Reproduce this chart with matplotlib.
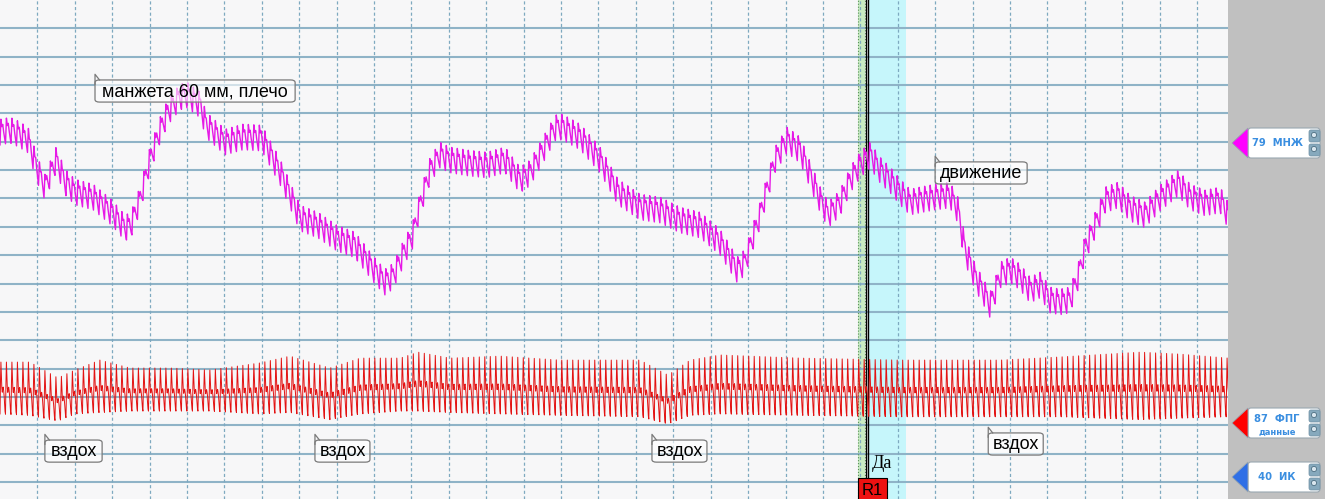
import numpy as np
import matplotlib.pyplot as plt
from matplotlib.patches import FancyBboxPatch, Polygon, Rectangle, Circle

# МНЖ (magenta) channel: slow trend, time in s, level in grid cells from top
mnz_t = [0.0, 0.27, 0.5, 0.75, 1.0, 1.2, 1.5, 1.74, 2.0, 2.49, 3.0, 3.34, 3.5, 3.74,
         4.01, 4.28, 4.49, 4.81, 5.0, 5.35, 5.51, 6.02, 6.5, 7.0, 7.49, 8.02, 8.5,
         9.01, 9.49, 10.0, 10.29, 10.51, 10.83, 11.02, 11.23, 11.5, 11.76, 12.03,
         12.51, 13.02, 13.5, 13.9, 14.17, 14.52, 14.84, 15.03, 15.51, 16.04, 16.52,
         17.11, 17.65, 18.18, 18.72, 19.25, 19.71, 19.92, 20.32, 20.72, 21.04, 21.39,
         21.66, 21.93, 22.14, 22.46, 22.73, 22.99, 23.26, 23.53, 23.8, 24.06, 24.33,
         24.6, 25.0, 25.4, 25.61, 25.8, 26.07, 26.34, 26.47, 26.6, 26.74, 27.01,
         27.27, 27.54, 27.81, 28.07, 28.34, 28.61, 28.82, 29.01, 29.28, 29.55, 29.89,
         30.21, 30.61, 31.02, 31.5, 31.82, 32.22, 32.62, 32.83]
mnz_mid = [4.66, 4.59, 4.73, 4.94, 6.0, 6.6, 5.64, 6.42, 6.77, 6.95, 7.51, 8.04, 7.94, 7.05,
           5.64, 4.59, 3.95, 3.42, 3.35, 3.7, 4.41, 5.01, 4.83, 4.87, 6.07, 7.69, 7.94,
           8.4, 8.64, 9.52, 9.95, 9.74, 8.82, 8.36, 7.23, 6.0, 5.47, 5.64,
           5.75, 5.82, 5.64, 6.35, 6.1, 5.29, 4.51, 4.48, 4.83, 5.64, 6.77,
           7.3, 7.41, 7.76, 7.94, 8.54, 9.52, 9.24, 7.58, 5.64, 4.94, 5.29,
           6.17, 7.05, 7.58, 7.16, 6.35, 5.82, 5.47, 6.0, 6.35, 6.77, 7.13,
           7.05, 6.95, 6.88, 7.41, 8.82, 9.77, 10.41, 10.76, 10.3, 9.7, 9.52,
           9.77, 10.23, 10.05, 10.58, 10.65, 10.58, 9.77, 8.75, 7.94, 7.05, 6.88,
           7.34, 7.58, 6.98, 6.46, 6.95, 7.16, 7.05, 7.58]
mnz_swing = 0.45

# ФПГ (red) channel: upper and lower envelope, grid cells from top
fpg_t = [0.0, 0.8, 1.55, 2.0, 2.67, 3.48, 4.55, 5.61, 6.95, 7.75, 8.82, 9.63, 10.7, 11.18,
         12.03, 13.37, 14.97, 17.11, 17.86, 18.45, 19.25, 21.39, 24.06, 26.74, 28.34,
         30.48, 31.55, 32.83]
fpg_top = [12.77, 12.77, 13.33, 13.05, 12.7, 12.98, 12.98, 13.05, 12.8, 12.56, 12.98, 12.63,
           12.63, 12.42, 12.63, 12.56, 12.7, 12.7, 13.23, 12.7, 12.52, 12.63, 12.7, 12.7,
           12.59, 12.42, 12.49, 12.63]
fpg_bot = [14.6, 14.65, 14.85, 14.6, 14.55, 14.5, 14.5, 14.5, 14.6, 14.55, 14.8, 14.6,
           14.5, 14.5, 14.55, 14.6, 14.65, 14.7, 14.95, 14.65, 14.6, 14.65, 14.7, 14.7,
           14.7, 14.8, 14.75, 14.7]

# one heart beat (0 = trough, 1 = peak)
beat_period = 0.147
mnz_beat = [0.0, 0.55, 1.0, 0.85, 0.7, 0.74, 0.78, 0.62, 0.48, 0.36, 0.22, 0.1]
fpg_beat = [0.0, 0.6, 1.0, 0.75, 0.5, 0.42, 0.5, 0.52, 0.45, 0.35, 0.2, 0.05]

labels = [("манжета 60 мм, плечо", 2.54, 2.82, 7.89, 3.6),
          ("движение", 25.0, 5.71, 27.46, 6.49),
          ("вздох", 1.2, 15.52, 2.73, 16.3),
          ("вздох", 8.42, 15.52, 9.89, 16.3),
          ("вздох", 17.43, 15.52, 18.9, 16.3),
          ("вздох", 26.42, 15.27, 27.89, 16.05)]

tags = [("79  МНЖ", "", "#ff00ff", 143),
        ("87  ФПГ", "данные", "#ff0000", 423),
        ("40  ИК", "", "#2f6fe6", 477)]

t_end = 32.83
y_end = 17.6


def trace(t_pts, top, bot, shape):
    n = len(shape)
    tt = []
    for k in range(int(t_end / beat_period) + 1):
        for i in range(n):
            tt.append((k + i / n) * beat_period)
    tt = np.array(tt)
    tp = np.interp(tt, t_pts, top)
    bt = np.interp(tt, t_pts, bot)
    s = np.tile(shape, len(tt) // n)
    return tt, bt - (bt - tp) * s


fig = plt.figure(figsize=(13.25, 4.99), dpi=100, facecolor="#c0c0c0")
ax = fig.add_axes([0, 0, 1228 / 1325, 1])
ax.set_facecolor("#f7f7f8")
ax.set_xlim(0, t_end)
ax.set_ylim(y_end, 0)
ax.set_xticks([])
ax.set_yticks([])
for s in ax.spines.values():
    s.set_visible(False)

for y in range(1, 18):
    ax.axhline(y, color="#8fb3c7", lw=1.5, zorder=1)
for x in range(1, 33):
    ax.axvline(x, color="#7ea9c0", lw=0.9, ls=(0, (2.5, 2)), zorder=1)

# event marker
ax.axvspan(23.21, 24.22, color="#c6f6fb", zorder=0.5, lw=0)
ax.axvspan(22.94, 23.13, color="#c9ebc2", zorder=0.5, lw=0)
ax.axvline(22.94, color="#5b8f5b", lw=0.8, ls=":", zorder=2)
ax.axvline(23.13, color="#5b8f5b", lw=0.8, ls=":", zorder=2)
ax.axvline(23.15, color="black", lw=1.0, zorder=2)
ax.axvline(23.21, color="black", lw=1.0, zorder=2)

mid = np.array(mnz_mid)
t1, y1 = trace(mnz_t, mid - mnz_swing, mid + mnz_swing, mnz_beat)
ax.plot(t1, y1, color="#e619e6", lw=1.0, zorder=3)
t2, y2 = trace(fpg_t, fpg_top, fpg_bot, fpg_beat)
ax.plot(t2, y2, color="#e31212", lw=0.7, zorder=3)

for text, x0, y0, x1, y1b in labels:
    box = FancyBboxPatch((x0, y0), x1 - x0, y1b - y0,
                         boxstyle="round,pad=0,rounding_size=0.12",
                         mutation_aspect=28.35 / 37.4,
                         fc=(1, 1, 1, 0.6), ec="#7a7a7a", lw=0.9, zorder=4)
    ax.add_patch(box)
    ax.plot([x0, x0, x0 + 0.12], [y0 + 0.15, y0 - 0.2, y0], color="#7a7a7a",
            lw=0.9, zorder=4)
    ax.text((x0 + x1) / 2, (y0 + y1b) / 2 + 0.02, text, ha="center", va="center",
            fontsize=13, family="Liberation Sans", color="black", zorder=5)

ax.add_patch(Rectangle((22.94, 16.86), 0.77, 0.8, fc="#ee1111", ec="black",
                       lw=0.8, zorder=5, clip_on=False))
ax.text(23.33, 17.3, "R1", ha="center", va="center", fontsize=12,
        family="Liberation Sans", zorder=6)
ax.text(23.3, 16.35, "Да", ha="left", va="center", fontsize=13,
        family="Liberation Serif", zorder=6)

# channel tags on the grey panel
side = fig.add_axes([1228 / 1325, 0, 97 / 1325, 1])
side.set_xlim(0, 97)
side.set_ylim(499, 0)
side.axis("off")
for name, sub, col, yc in tags:
    side.add_patch(FancyBboxPatch((20, yc - 15), 72, 30,
                                  boxstyle="round,pad=0,rounding_size=3",
                                  fc="white", ec="#9aa7b0", lw=0.8))
    side.add_patch(Polygon([(4, yc), (20, yc - 15), (20, yc + 15)], closed=True,
                           fc=col, ec="#9aa7b0", lw=0.6))
    for yy in (yc - 13, yc + 1):
        side.add_patch(FancyBboxPatch((81, yy), 11, 12,
                                      boxstyle="round,pad=0,rounding_size=2",
                                      fc="#86a9bd", ec="#6d8fa3", lw=0.5))
        side.add_patch(Circle((86, yy + 5), 2.6, fc="#d9e6ee", ec="#4e6f82", lw=0.6))
    if sub:
        side.text(49, yc - 4, name, ha="center", va="center", fontsize=7.2,
                  fontweight="bold", color="#3a8ee0", family="DejaVu Sans")
        side.text(49, yc + 9, sub, ha="center", va="center", fontsize=6,
                  fontweight="bold", color="#3a8ee0", family="DejaVu Sans")
    else:
        side.text(49, yc, name, ha="center", va="center", fontsize=7.2,
                  fontweight="bold", color="#3a8ee0", family="DejaVu Sans")

fig.savefig("out.png", dpi=100, facecolor=fig.get_facecolor())
